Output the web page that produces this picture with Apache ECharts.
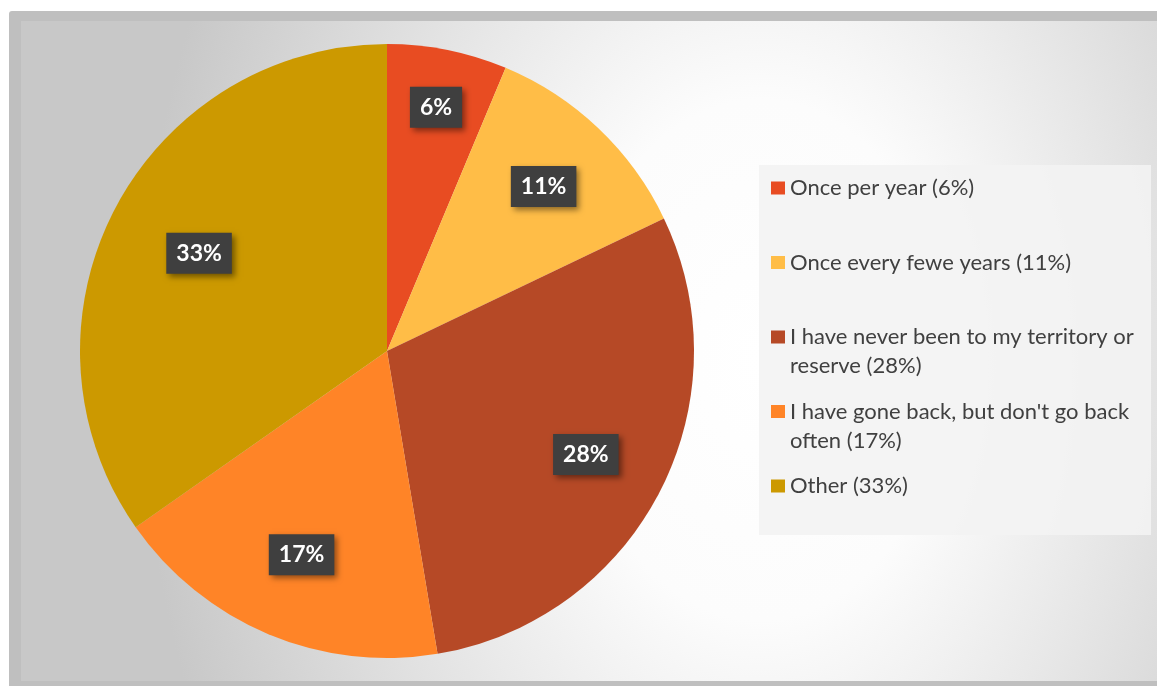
<!DOCTYPE html>
<html>
<head>
<meta charset="utf-8">
<script src="https://cdn.jsdelivr.net/npm/echarts@6/dist/echarts.min.js"></script>
<style>
  html, body { margin: 0; padding: 0; background: #ffffff; }
  #chart { width: 1157px; height: 686px; }
</style>
</head>
<body>
<div id="chart"></div>
<script>
// Survey answers: how often people return to their territory or reserve
const categories = [
  'Once per year',
  'Once every fewe years',
  'I have never been to my territory or reserve',
  "I have gone back, but don't go back often",
  'Other'
];
const percentValues = [6, 11, 28, 17, 33];

// Slice colours, in category order
const sliceColors = ['#E84C22', '#FFBD47', '#B64926', '#FF8427', '#CC9900'];
// How far out each value label sits, as a share of the pie radius
const labelRadiusShare = [0.81, 0.74, 0.73, 0.72, 0.69];

const PIE_CX = 387, PIE_CY = 351, PIE_R = 307;

// Legend text metrics
const LEGEND_FONT = 'Lato';
const LEGEND_SIZE = 22;
const LEGEND_LINE = 29;
const LEGEND_TEXT_W = 352;
const LEGEND_SLOTS = 3;   // each entry is laid out as three line slots

const entryText = name => name + ' (' + percentValues[categories.indexOf(name)] + '%)';

// Count wrapped lines of a legend entry
function lineCount(text) {
  const t = new echarts.graphic.Text({
    style: {
      text: text, fontFamily: LEGEND_FONT, fontSize: LEGEND_SIZE,
      lineHeight: LEGEND_LINE, width: LEGEND_TEXT_W, overflow: 'break'
    }
  });
  return Math.max(1, Math.round(t.getBoundingRect().height / LEGEND_LINE));
}

// Pad each entry to the same block height with its first line in the middle slot,
// so the swatch sits beside the first line and entries are evenly spaced
function legendText(name) {
  const text = entryText(name);
  const n = lineCount(text);
  return '\u00a0\n' + text + '\n\u00a0'.repeat(Math.max(0, LEGEND_SLOTS - 1 - n));
}

const pieData = categories.map((name, i) => ({
  name: name,
  value: percentValues[i],
  itemStyle: { color: sliceColors[i] }
}));

// Backdrop: elliptical light spot, stretched vertically around y = 360
const GLOW_SCALE_Y = 1.4, GLOW_MID_Y = 360;
const glowTop = GLOW_MID_Y + (21 - GLOW_MID_Y) / GLOW_SCALE_Y;
const glowBottom = GLOW_MID_Y + (681 - GLOW_MID_Y) / GLOW_SCALE_Y;

const chart = echarts.init(document.getElementById('chart'), null, { renderer: 'canvas' });

chart.setOption({
  backgroundColor: '#ffffff',
  animation: false,
  graphic: [
    {
      type: 'rect', z: -10, silent: true,
      shape: { x: 9, y: 11, width: 1170, height: 690, r: 3 },
      style: { fill: '#bfbfbf' }
    },
    {
      type: 'rect', z: -9, silent: true,
      originX: 0, originY: GLOW_MID_Y, scaleY: GLOW_SCALE_Y,
      shape: { x: 21, y: glowTop, width: 1150, height: glowBottom - glowTop },
      style: {
        fill: new echarts.graphic.RadialGradient(760, GLOW_MID_Y, 620, [
          { offset: 0, color: '#ffffff' },
          { offset: 0.3, color: '#fcfcfc' },
          { offset: 1, color: '#c8c8c8' }
        ], true)
      }
    }
  ],
  legend: {
    orient: 'vertical',
    left: 759,
    top: 165,
    padding: [-20.5, 9, 5.5, 12],
    backgroundColor: 'rgba(243,243,243,0.9)',
    itemWidth: 14,
    itemHeight: 13,
    itemGap: 74.5 - LEGEND_SLOTS * LEGEND_LINE,
    icon: 'rect',
    selectedMode: false,
    data: categories.map((name, i) => ({ name: name, itemStyle: { color: sliceColors[i] } })),
    formatter: legendText,
    textStyle: {
      fontFamily: LEGEND_FONT,
      fontSize: LEGEND_SIZE,
      color: '#404040',
      lineHeight: LEGEND_LINE,
      width: LEGEND_TEXT_W,
      overflow: 'break'
    }
  },
  series: [
    {
      type: 'pie',
      center: [PIE_CX, PIE_CY],
      radius: [0, PIE_R],
      startAngle: 90,
      clockwise: true,
      silent: true,
      data: pieData,
      label: {
        show: true,
        position: 'inside',
        formatter: '{c}%',
        fontFamily: 'Lato',
        fontWeight: 'bold',
        fontSize: 23,
        lineHeight: 23,
        color: '#ffffff',
        backgroundColor: '#3f3f3f',
        padding: [9, 10, 9, 10],
        shadowColor: 'rgba(0,0,0,0.45)',
        shadowBlur: 6,
        shadowOffsetX: 3,
        shadowOffsetY: 3
      },
      labelLine: { show: false },
      labelLayout: function (p) {
        const cx = p.labelRect.x + p.labelRect.width / 2;
        const cy = p.labelRect.y + p.labelRect.height / 2;
        const dx = cx - PIE_CX, dy = cy - PIE_CY;
        const d = Math.sqrt(dx * dx + dy * dy) || 1;
        const k = labelRadiusShare[p.dataIndex] * PIE_R / d;
        return { x: PIE_CX + dx * k, y: PIE_CY + dy * k };
      }
    }
  ]
});
</script>
</body>
</html>
